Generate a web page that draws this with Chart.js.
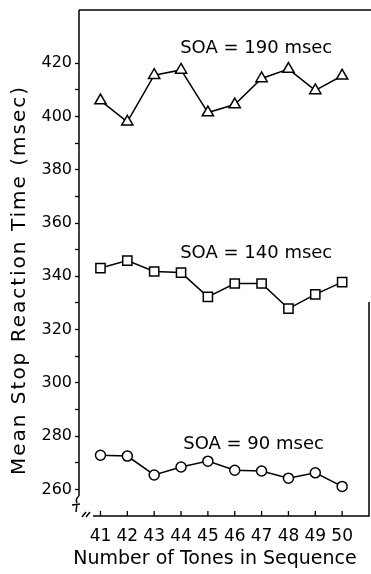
<!DOCTYPE html>
<html>
<head>
<meta charset="utf-8">
<script src="https://cdn.jsdelivr.net/npm/chart.js@4.4.1/dist/chart.umd.min.js"></script>
<style>
  html, body { margin: 0; padding: 0; background: #fff; }
</style>
</head>
<body>
<canvas id="rtChart" width="371" height="574"></canvas>
<script>
// Data
const tones = [41, 42, 43, 44, 45, 46, 47, 48, 49, 50];
const soa190 = [406, 398, 415.5, 417.5, 401.5, 404.5, 414.3, 417.8, 409.8, 415.3];
const soa140 = [343.1, 345.9, 341.8, 341.4, 332.3, 337.3, 337.3, 327.9, 333.2, 337.8];
const soa90 = [272.8, 272.5, 265.4, 268.4, 270.6, 267.2, 266.9, 264.2, 266.2, 261.1];
const yTicks = [260, 270, 280, 290, 300, 310, 320, 330, 340, 350, 360, 370, 380, 390, 400, 410, 420];
const seriesNames = ['SOA = 190 msec', 'SOA = 140 msec', 'SOA = 90 msec'];

const FONT = 'DejaVu Sans';

function toPoints(values) {
    return tones.map((t, i) => ({ x: t, y: values[i] }));
}

function lineSet(name, values, style, radius) {
    return {
        label: name,
        data: toPoints(values),
        borderColor: '#000',
        borderWidth: 1.5,
        pointStyle: style,
        pointRadius: radius,
        pointBackgroundColor: '#fff',
        pointBorderColor: '#000',
        pointBorderWidth: 1.5,
        tension: 0
    };
}

// axis box with the broken corner, inward x ticks, titles and series labels
const framePlugin = {
    id: 'frame',
    afterDraw(chart) {
        const { ctx, chartArea: a, scales: { x, y } } = chart;
        ctx.save();
        ctx.strokeStyle = '#000';
        ctx.lineWidth = 1.5;
        ctx.beginPath();
        ctx.moveTo(a.left, a.top);
        ctx.lineTo(chart.width, a.top);
        ctx.moveTo(a.left, a.top);
        ctx.lineTo(a.left, a.bottom - 20);
        ctx.moveTo(a.left + 14, a.bottom);
        ctx.lineTo(a.right, a.bottom);
        ctx.lineTo(a.right, 302);
        // break marks
        ctx.moveTo(a.left, a.bottom - 20);
        ctx.quadraticCurveTo(a.left - 4, a.bottom - 17, a.left - 2, a.bottom - 13);
        ctx.moveTo(a.left - 7, a.bottom - 11);
        ctx.lineTo(a.left + 1, a.bottom - 12);
        ctx.moveTo(a.left - 2, a.bottom - 12);
        ctx.lineTo(a.left - 3, a.bottom - 4);
        ctx.moveTo(a.left + 3, a.bottom + 1);
        ctx.lineTo(a.left + 7, a.bottom - 4);
        ctx.moveTo(a.left + 7, a.bottom + 1);
        ctx.lineTo(a.left + 11, a.bottom - 4);
        ctx.stroke();

        ctx.lineWidth = 1.3;
        ctx.beginPath();
        x.ticks.forEach(t => {
            const px = x.getPixelForValue(t.value);
            ctx.moveTo(px, a.bottom);
            ctx.lineTo(px, a.bottom - 5);
        });
        ctx.stroke();

        ctx.fillStyle = '#000';
        ctx.textAlign = 'center';
        ctx.textBaseline = 'middle';

        ctx.font = '19px "' + FONT + '"';
        ctx.fillText('Number of Tones in Sequence', 215, 559);

        ctx.save();
        ctx.translate(20, 280);
        ctx.rotate(-Math.PI / 2);
        ctx.font = '20px "' + FONT + '"';
        ctx.letterSpacing = '2px';
        ctx.fillText('Mean Stop Reaction Time (msec)', 0, 0);
        ctx.restore();

        ctx.font = '18px "' + FONT + '"';
        const spots = [[46.8, 425.6], [46.8, 348.6], [46.7, 277]];
        seriesNames.forEach((name, i) => {
            ctx.fillText(name, x.getPixelForValue(spots[i][0]), y.getPixelForValue(spots[i][1]));
        });
        ctx.restore();
    }
};

const chart = new Chart(document.getElementById('rtChart'), {
    type: 'line',
    data: {
        datasets: [
            lineSet(seriesNames[0], soa190, 'triangle', 6.5),
            lineSet(seriesNames[1], soa140, 'rect', 6.5),
            lineSet(seriesNames[2], soa90, 'circle', 5)
        ]
    },
    options: {
        responsive: false,
        animation: false,
        layout: {
            autoPadding: false,
            padding: { top: 10, right: 2, left: 0, bottom: 0 }
        },
        plugins: {
            legend: { display: false },
            tooltip: { enabled: false }
        },
        scales: {
            x: {
                type: 'linear',
                min: 40.2,
                max: 51,
                afterBuildTicks: scale => { scale.ticks = tones.map(v => ({ value: v })); },
                afterFit: scale => {
                    scale.height = 58;
                    scale.paddingLeft = 0;
                    scale.paddingRight = 0;
                },
                grid: { display: false, drawTicks: false },
                border: { display: false },
                ticks: {
                    color: '#000',
                    padding: 10,
                    maxRotation: 0,
                    font: { family: FONT, size: 17 },
                    callback: v => String(v)
                }
            },
            y: {
                min: 250,
                max: 440,
                afterBuildTicks: scale => { scale.ticks = yTicks.map(v => ({ value: v })); },
                afterFit: scale => {
                    scale.width = 79;
                    scale.paddingTop = 0;
                    scale.paddingBottom = 0;
                },
                grid: {
                    drawOnChartArea: false,
                    tickLength: 4,
                    tickColor: '#000',
                    tickWidth: 1.3
                },
                border: { display: false },
                ticks: {
                    color: '#000',
                    padding: 3,
                    font: { family: FONT, size: 16 },
                    callback: v => (v % 20 === 0 ? String(v) : '')
                }
            }
        }
    },
    plugins: [framePlugin]
});
</script>
</body>
</html>
